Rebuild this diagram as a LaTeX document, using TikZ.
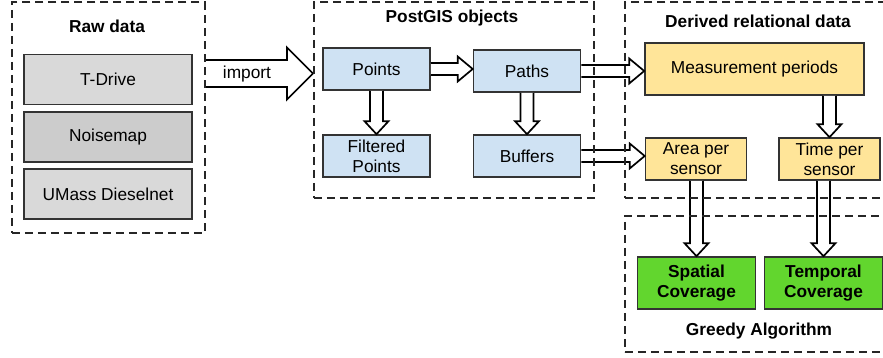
\documentclass[tikz,border=0pt]{standalone}
\usepackage{fontspec}
\setmainfont{Liberation Sans}
\usetikzlibrary{positioning, calc}
\definecolor{rawgray}{HTML}{D9D9D9}
\definecolor{noisegray}{HTML}{CCCCCC}
\definecolor{objblue}{HTML}{CFE2F3}
\definecolor{relyellow}{HTML}{FFE599}
\definecolor{algogreen}{HTML}{62D62E}
\tikzset{
  box/.style   = {rectangle, draw=black!80, line width=1.6pt, align=center,
                  font=\fontsize{17.3}{20}\selectfont, inner sep=2pt},
  graybox/.style   = {box, fill=rawgray, minimum width=168pt, minimum height=50pt},
  bluebox/.style   = {box, fill=objblue, minimum width=107pt, minimum height=42pt},
  yellowbox/.style = {box, fill=relyellow, minimum width=101pt, minimum height=42pt},
  greenbox/.style  = {box, fill=algogreen, minimum width=118pt, minimum height=52pt,
                      font=\fontsize{17.3}{20}\selectfont\bfseries},
  frame/.style = {rectangle, draw=black!85, line width=1.7pt,
                  dash pattern=on 8pt off 5pt, anchor=north west, inner sep=0pt},
  ttl/.style   = {font=\fontsize{17.3}{20}\selectfont\bfseries, inner sep=1pt},
  lbl/.style   = {font=\fontsize{17.3}{20}\selectfont, inner sep=1pt},
  blk/.style   = {draw=black, fill=white, line width=1.7pt, line join=miter},
}
% hollow block arrows, horizontal and vertical
\newcommand{\harr}[2]{%
  \draw[blk] let \p1=(#1.east), \p2=(#2.west) in
    (\x1,\y1+6pt) -- (\x2-15pt,\y1+6pt) -- (\x2-15pt,\y1+12.5pt) -- (\x2,\y1)
    -- (\x2-15pt,\y1-12.5pt) -- (\x2-15pt,\y1-6pt) -- (\x1,\y1-6pt);}
\newcommand{\varr}[2]{%
  \draw[blk] let \p1=(#1.south), \p2=(#2.north) in
    (\x2-6.5pt,\y1) -- (\x2-6.5pt,\y2+13pt) -- (\x2-12pt,\y2+13pt) -- (\x2,\y2)
    -- (\x2+12pt,\y2+13pt) -- (\x2+6.5pt,\y2+13pt) -- (\x2+6.5pt,\y1);}

\begin{document}
\begin{tikzpicture}[x=1pt, y=-1pt]
  \useasboundingbox (0,0) rectangle (883,358);

  % raw data
  \node[graybox] (td) at (108,79.5) {T-Drive};
  \node[graybox, fill=noisegray] (nm) at (108,137) {Noisemap};
  \node[graybox] (um) at (108,194) {UMass Dieselnet};

  % postgis objects
  \node[bluebox] (pts)  at (376.5,69)  {Points};
  \node[bluebox] (pth)  at (527,71)    {Paths};
  \node[bluebox] (fpts) at (376.5,156) {Filtered\\Points};
  \node[bluebox] (buf)  at (527,156)   {Buffers};

  % derived relational data
  \node[yellowbox, minimum width=219pt, minimum height=52pt] (meas) at (754.5,69)
    {Measurement periods};
  \node[yellowbox] (area) at (696,159)   {Area per\\sensor};
  \node[yellowbox] (time) at (829.5,159) {Time per\\sensor};

  % greedy algorithm
  \node[greenbox] (spat) at (696.5,283) {Spatial\\Coverage};
  \node[greenbox] (temp) at (823.5,283) {Temporal\\Coverage};

  % arrows
  \coordinate (imps) at (204,73.5);
  \coordinate (impe) at (313,73.5);
  \draw[blk] let \p1=(imps), \p2=(impe) in
    (\x1,\y1+13.5pt) -- (\x2-26pt,\y1+13.5pt) -- (\x2-26pt,\y1+26pt) -- (\x2,\y1)
    -- (\x2-26pt,\y1-26pt) -- (\x2-26pt,\y1-13.5pt) -- (\x1,\y1-13.5pt);
  \node[lbl] (implbl) at (247,74) {import};
  \harr{pts}{pth}
  \harr{pth}{meas}
  \harr{buf}{area}
  \varr{pts}{fpts}
  \varr{pth}{buf}
  \varr{meas}{time}
  \varr{area}{spat}
  \varr{time}{temp}

  % dashed groups
  \node[frame, minimum width=193pt, minimum height=230.5pt] (raw) at (11,1.5) {};
  \node[frame, minimum width=280pt, minimum height=195.5pt] (pgis) at (313,1.5) {};
  \node[frame, minimum width=280pt, minimum height=195.5pt] (drv) at (624,1.5) {};
  \node[frame, minimum width=280pt, minimum height=136pt] (grd) at (624,215) {};
  \node[ttl] (rawttl)  at (107,26)  {Raw data};
  \node[ttl] (pgisttl) at (452,18)  {PostGIS objects};
  \node[ttl] (drvttl)  at (758,21)  {Derived relational data};
  \node[ttl] (grdttl)  at (759,331) {Greedy Algorithm};
\end{tikzpicture}
\end{document}
